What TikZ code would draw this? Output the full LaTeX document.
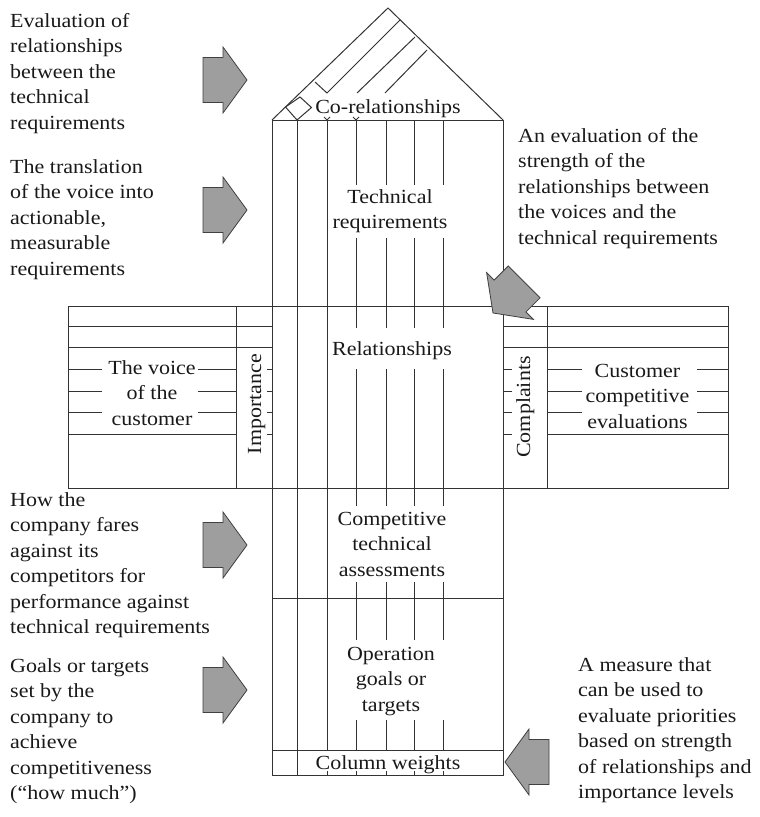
\documentclass[tikz,border=0pt]{standalone}
\usepackage{fontspec}
\setmainfont{Liberation Serif}[FakeStretch=1.1]
\begin{document}
\begin{tikzpicture}[x=1pt,y=-1pt,
  hqline/.style={draw=black!80,line width=1pt},
  txt/.style={inner sep=0pt,font=\fontsize{20}{25.5}\selectfont,text=black!90},
  notetxt/.style={txt,align=left,anchor=north west},
  celltxt/.style={txt,align=center,anchor=north},
  sidetxt/.style={txt,rotate=90,anchor=base},
  arrowbody/.style={fill=black!38,draw=black!75,line width=0.8pt},
  blockarrow/.pic={\path[arrowbody] (0,0) -- (-24,-33) -- (-24,-22.5) -- (-44,-22.5)
      -- (-44,22.5) -- (-24,22.5) -- (-24,33) -- cycle;}
]
\useasboundingbox (0,0) rectangle (760,817);

% ---- roof (correlation matrix) ----
\draw[hqline] (272,120) -- (388,8) -- (503,120);
\draw[hqline] (297,120) -- (285.5,107) -- (300,97) -- (311.5,107.5) -- cycle;
\draw[hqline] (315,82) -- (327,93) -- (400,20);
\draw[hqline] (357,93) -- (415,37);
\draw[hqline] (385,93) -- (427,50);
\foreach \x in {327,356}
  \draw[hqline] (\x-3,117) -- (\x,120) -- (\x+3,117);

% ---- main body ----
\draw[hqline] (272,120) rectangle (503,775);
\foreach \y in {306.5,488,598,750}
  \draw[hqline] (272,\y) -- (503,\y);
\draw[hqline] (297,120) -- (297,775);
\draw[hqline] (327,120) -- (327,750);
\foreach \x in {356,386,414,443}{
  \foreach \a/\b in {120/185,238/328,369/506,582/640,720/750}
    \draw[hqline] (\x,\a) -- (\x,\b);
}
\foreach \x in {327,356,386,414,443}
  \draw[hqline] (\x,771) -- (\x,775);

% ---- left wing ----
\draw[hqline] (272,306.5) -- (68,306.5) -- (68,488) -- (272,488);
\draw[hqline] (236,306.5) -- (236,488);
\foreach \y in {326.5,347.5}
  \draw[hqline] (68,\y) -- (272,\y);
\foreach \y in {369,391,412}{
  \draw[hqline] (68,\y) -- (102,\y);
  \draw[hqline] (198,\y) -- (236,\y);
}
\draw[hqline] (68,434) -- (236,434);
\foreach \y in {369,391,412,434}
  \draw[hqline] (267,\y) -- (272,\y);

% ---- right wing ----
\draw[hqline] (503,306.5) -- (728,306.5) -- (728,488) -- (503,488);
\draw[hqline] (547,306.5) -- (547,488);
\foreach \y in {326.5,347.5}
  \draw[hqline] (503,\y) -- (728,\y);
\foreach \y in {369,391,412}{
  \draw[hqline] (547,\y) -- (582,\y);
  \draw[hqline] (697,\y) -- (728,\y);
}
\draw[hqline] (547,434) -- (728,434);
\foreach \y in {369,391,412,434}
  \draw[hqline] (503,\y) -- (512,\y);

% ---- cell labels ----
\node[celltxt] (corel) at (388,95.15) {\strut Co-relationships};
\node[celltxt] (techreq) at (390,185.15) {\strut Technical\\requirements};
\node[celltxt] (rel) at (392,337.15) {\strut Relationships};
\node[celltxt] (compassess) at (392,507.15) {\strut Competitive\\technical\\assessments};
\node[celltxt] (goals) at (391,642.15) {\strut Operation\\goals or\\targets};
\node[celltxt] (weights) at (388,751.15) {\strut Column weights};
\node[celltxt] (voice) at (152,356.15) {\strut The voice\\of the\\customer};
\node[celltxt] (custeval) at (637.5,359.15) {\strut Customer\\competitive\\evaluations};
\node[sidetxt] (importance) at (261,404) {Importance};
\node[sidetxt] (complaints) at (530,407) {Complaints};

% ---- explanatory notes ----
\node[notetxt] (n1) at (10,9.15) {\strut Evaluation of\\relationships\\between the\\technical\\requirements};
\node[notetxt] (n2) at (10,155.15) {\strut The translation\\of the voice into\\actionable,\\measurable\\requirements};
\node[notetxt] (n3) at (10,488.15) {\strut How the\\company fares\\against its\\competitors for\\performance against\\technical requirements};
\node[notetxt] (n4) at (10,654.15) {\strut Goals or targets\\set by the\\company to\\achieve\\competitiveness\\(``how much'')};
\node[notetxt] (n5) at (518,124.15) {\strut An evaluation of the\\strength of the\\relationships between\\the voices and the\\technical requirements};
\node[notetxt] (n6) at (578,653.15) {\strut A measure that\\can be used to\\evaluate priorities\\based on strength\\of relationships and\\importance levels};

% ---- pointer arrows ----
\pic at (247,80) {blockarrow};
\pic at (247,210) {blockarrow};
\pic at (247,545) {blockarrow};
\pic at (247,690) {blockarrow};
\pic[rotate=225] at (493,313) {blockarrow};
\pic[rotate=180] at (505,762) {blockarrow};
\end{tikzpicture}
\end{document}
